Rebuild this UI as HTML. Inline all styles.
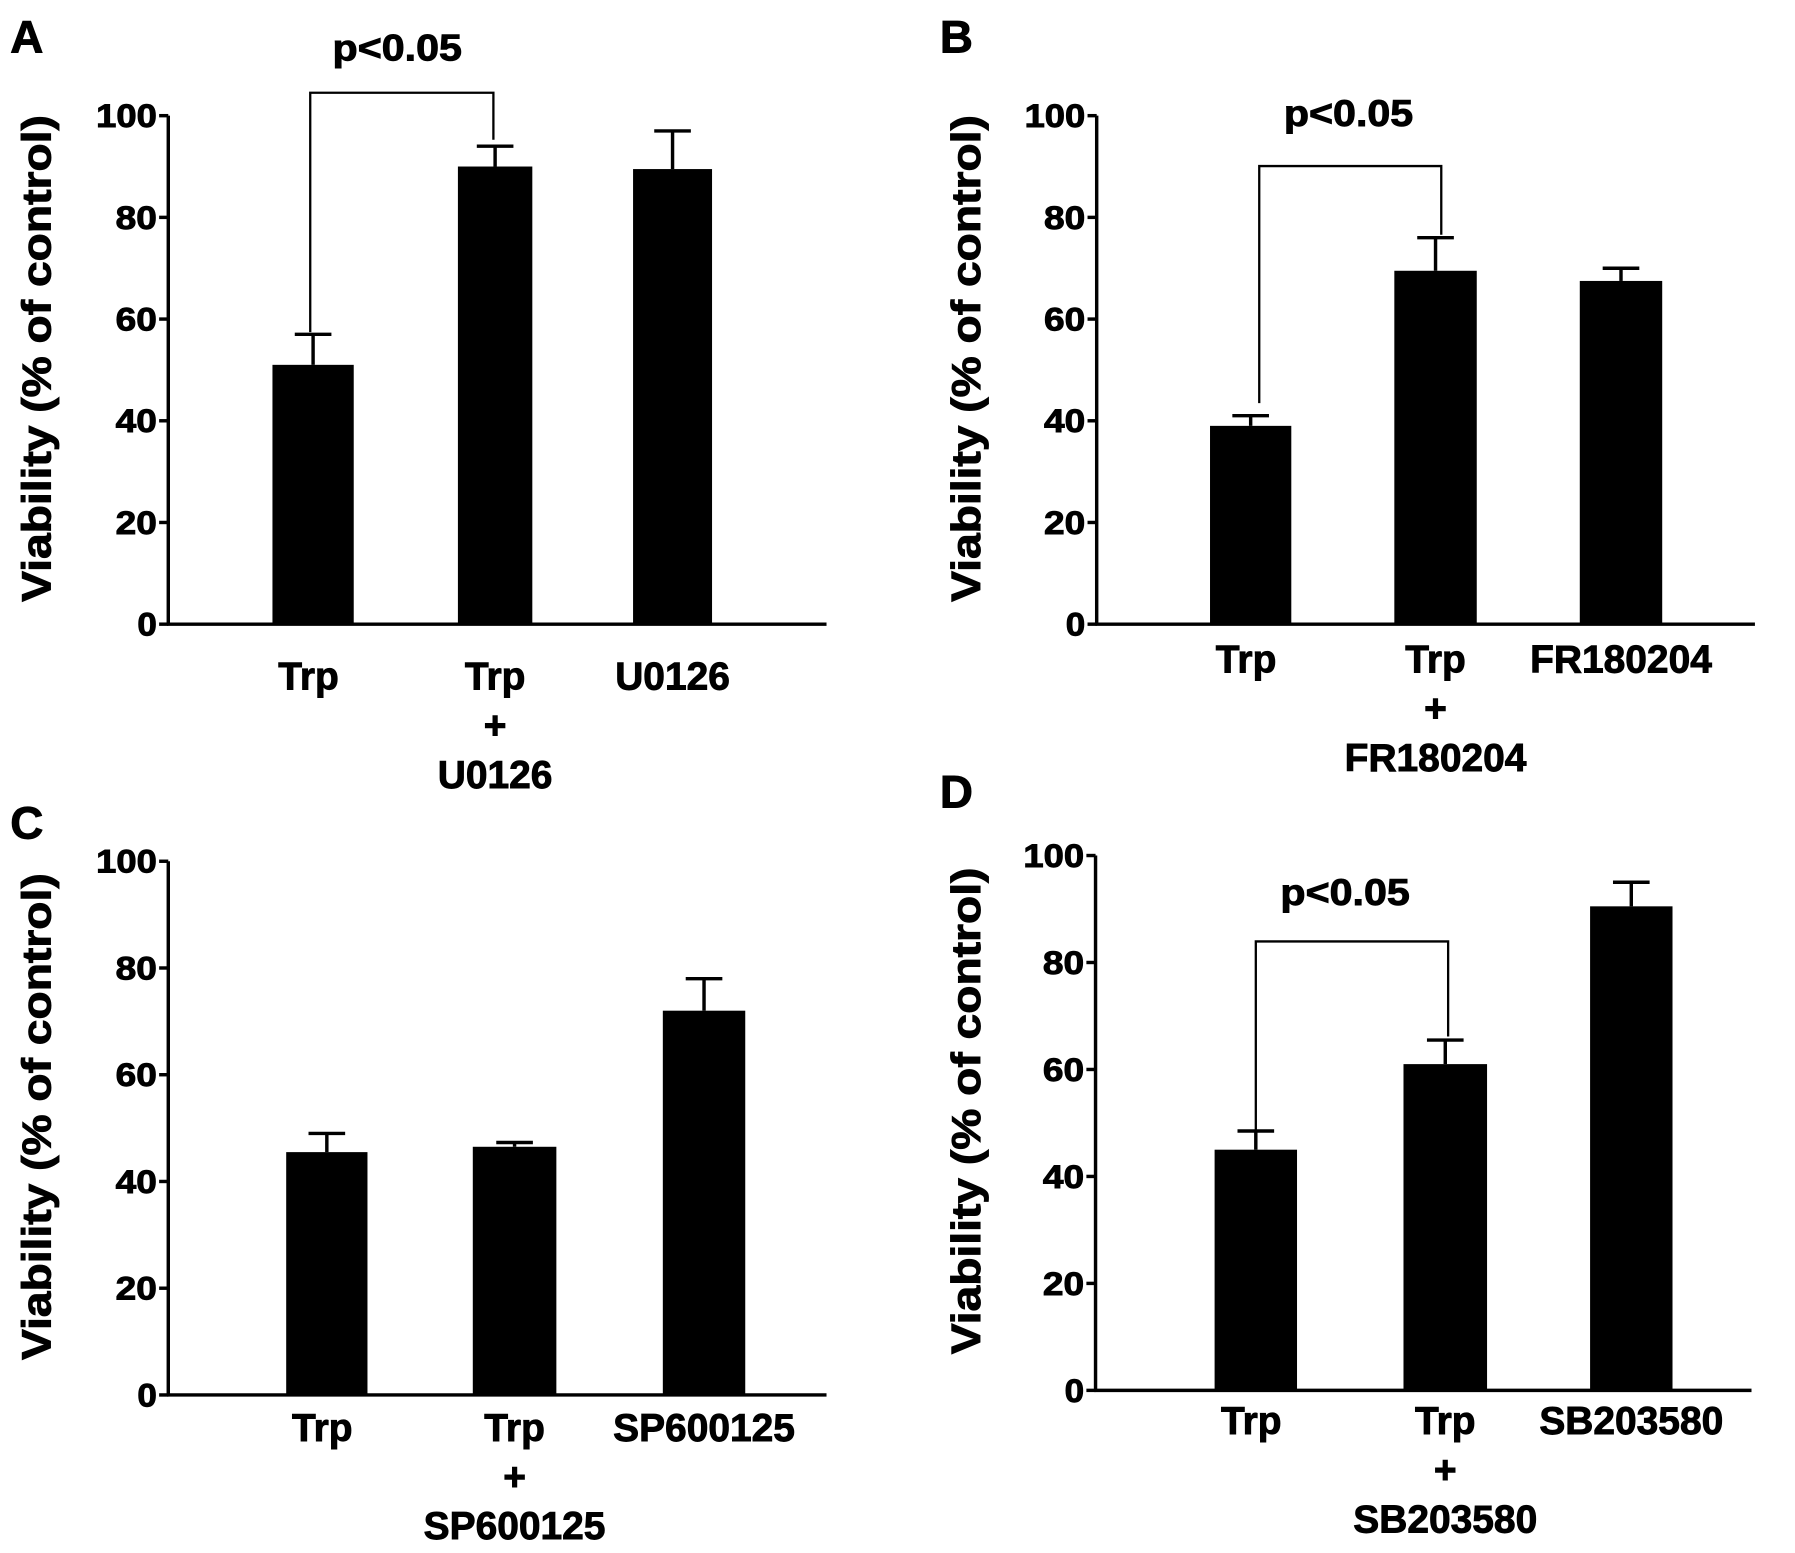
<!DOCTYPE html>
<html><head><meta charset="utf-8"><style>
html,body{margin:0;padding:0;background:#fff;}
svg{display:block;}
text{font-family:"Liberation Sans",Arial,sans-serif;font-weight:bold;fill:#000;stroke:#000;stroke-width:0.8;}
</style></head><body>
<svg id="fig" width="1795" height="1553" viewBox="0 0 1568 1356" preserveAspectRatio="none" xmlns="http://www.w3.org/2000/svg"></svg>
<script>
// Panel data
const panelLetters = ["A","B","C","D"];
const catA = [["Trp"],["Trp","+","U0126"],["U0126"]];
const valA = [51, 90, 89.5];
const errA = [57, 94, 97];
const catB = [["Trp"],["Trp","+","FR180204"],["FR180204"]];
const valB = [39, 69.5, 67.5];
const errB = [41, 76, 70];
const catC = [["Trp"],["Trp","+","SP600125"],["SP600125"]];
const valC = [45.5, 46.5, 72];
const errC = [49, 47.3, 78];
const catD = [["Trp"],["Trp","+","SB203580"],["SB203580"]];
const valD = [45, 61, 90.5];
const errD = [48.5, 65.5, 95];
const yTicks = [0, 20, 40, 60, 80, 100];

const NS = "http://www.w3.org/2000/svg";
const svg = document.getElementById("fig");
function mk(tag, attrs, parent){
  const e = document.createElementNS(NS, tag);
  for (const k in attrs) e.setAttribute(k, attrs[k]);
  (parent||svg).appendChild(e);
  return e;
}
const layouts = [
  {letter:[9,46], ax:147, y0:545, y100:101, xend:722, bars:[[238,309],[400,465],[553,622]], labY:602, sig:{top:81, l:271, r:431, lEnd:290, rEnd:122, tx:347, ty:53}, title:[44,313]},
  {letter:[821,46], ax:958, y0:545, y100:101, xend:1533, bars:[[1057,1128],[1218,1290],[1380,1452]], labY:587, sig:{top:145, l:1100, r:1259, lEnd:352, rEnd:205, tx:1178, ty:110}, title:[856,313]},
  {letter:[9,732], ax:147, y0:1218, y100:752, xend:722, bars:[[250,321],[413,486],[579,651]], labY:1258, sig:null, title:[44,975]},
  {letter:[821,705], ax:957, y0:1214, y100:747, xend:1530, bars:[[1061,1133],[1226,1299],[1389,1461]], labY:1252, sig:{top:822, l:1097, r:1265, lEnd:990, rEnd:905, tx:1175, ty:790}, title:[856,970]}
];
const cats = [catA, catB, catC, catD];
const vals = [valA, valB, valC, valD];
const errs = [errA, errB, errC, errD];

layouts.forEach((L, p) => {
  const g = mk("g", {});
  
  
  const y = v => L.y0 - (v/100)*(L.y0 - L.y100);
  const lt = mk("text", {x:L.letter[0], y:L.letter[1], "font-size":40}, g);
  lt.textContent = panelLetters[p];
  
  
  const ya = mk("line", {x1:L.ax, y1:y(100), x2:L.ax, y2:L.y0+1, stroke:"#000","stroke-width":3}, g);
  
  
  const xa = mk("line", {x1:L.ax-1, y1:L.y0, x2:L.xend, y2:L.y0, stroke:"#000","stroke-width":3}, g);
  
  
  yTicks.forEach(t => {
    mk("line", {x1:L.ax-8, y1:y(t), x2:L.ax, y2:y(t), stroke:"#000","stroke-width":3}, g);
    const tt = mk("text", {x:L.ax-10, y:y(t)+10, "font-size":28, "text-anchor":"end", "textLength": 17*String(t).length + (t===0?0:2), "lengthAdjust":"spacingAndGlyphs"}, g);
    tt.textContent = t;
    
    
  });
  const yt = mk("text", {x:0, y:0, "font-size":36, "text-anchor":"middle", "textLength":425, "lengthAdjust":"spacingAndGlyphs", transform:`translate(${L.title[0]},${L.title[1]}) rotate(-90)`}, g);
  yt.textContent = "Viability (% of control)";
  
  
  vals[p].forEach((v, i) => {
    const [x1, x2] = L.bars[i];
    const cx = (x1 + x2)/2;
    mk("line", {x1:cx, y1:y(errs[p][i]), x2:cx, y2:y(v), stroke:"#000","stroke-width":3}, g);
    const cap = mk("line", {x1:cx-16, y1:y(errs[p][i]), x2:cx+16, y2:y(errs[p][i]), stroke:"#000","stroke-width":3}, g);
    
    
    const r = mk("rect", {x:x1, y:y(v), width:x2-x1, height:L.y0-y(v), fill:"#000"}, g);
    
    
    cats[p][i].forEach((line, k) => {
      const lx = cats[p][i].length === 1 && i === 0 ? cx - 4 : cx;
      const tx = mk("text", {x:lx, y:L.labY + k*43, "font-size":34, "text-anchor":"middle"}, g);
      tx.textContent = line;
      
      
    });
  });
  if (L.sig) {
    const s = L.sig;
    const br = mk("polyline", {points:`${s.l},${s.lEnd} ${s.l},${s.top} ${s.r},${s.top} ${s.r},${s.rEnd}`, fill:"none", stroke:"#000","stroke-width":2}, g);
    
    
    const st = mk("text", {x:s.tx, y:s.ty, "font-size":32, "text-anchor":"middle", "textLength":113, "lengthAdjust":"spacingAndGlyphs"}, g);
    st.textContent = "p<0.05";
    
    
  }
});
</script>
</body></html>
